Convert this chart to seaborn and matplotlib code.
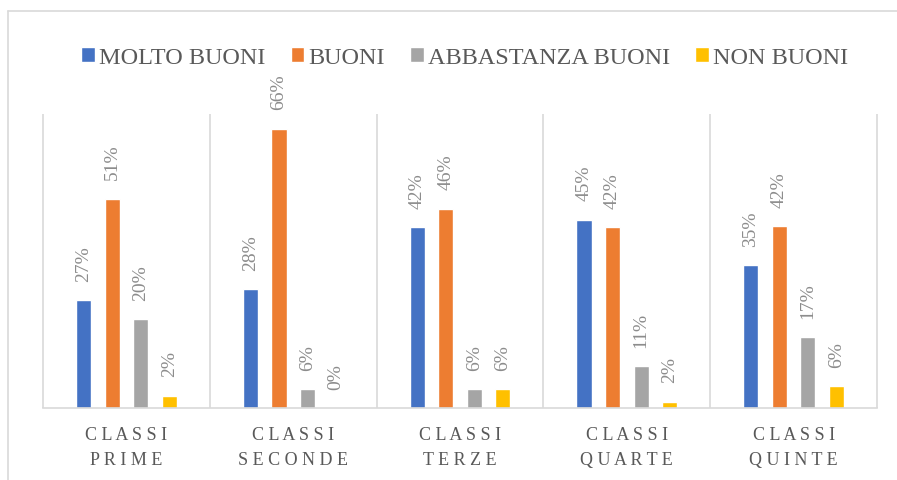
import pandas as pd
import matplotlib.pyplot as plt
from matplotlib.lines import Line2D
import seaborn as sns

# --- Data ---
classi = ["CLASSI\nPRIME", "CLASSI\nSECONDE", "CLASSI\nTERZE", "CLASSI\nQUARTE", "CLASSI\nQUINTE"]
giudizi = ["MOLTO BUONI", "BUONI", "ABBASTANZA BUONI", "NON BUONI"]

# bar heights (%) as drawn
molto_buoni = [25.7, 28.3, 43.0, 44.8, 34.0]
buoni = [49.8, 66.5, 47.5, 43.1, 43.3]
abbastanza_buoni = [21.1, 4.5, 4.5, 9.9, 16.9]
non_buoni = [2.9, 0.0, 4.5, 1.5, 5.2]

# data labels as printed on the chart
etichette = {
    "MOLTO BUONI": ["27%", "28%", "42%", "45%", "35%"],
    "BUONI": ["51%", "66%", "46%", "42%", "42%"],
    "ABBASTANZA BUONI": ["20%", "6%", "6%", "11%", "17%"],
    "NON BUONI": ["2%", "0%", "6%", "2%", "6%"],
}

colori = ["#4472C4", "#ED7D31", "#A5A5A5", "#FFC000"]

df = pd.DataFrame({"Classe": classi, "MOLTO BUONI": molto_buoni, "BUONI": buoni,
                   "ABBASTANZA BUONI": abbastanza_buoni, "NON BUONI": non_buoni})
df = df.melt(id_vars="Classe", var_name="Giudizio", value_name="Percentuale")

sns.set_theme(style="white")
plt.rcParams['font.family'] = ['Liberation Serif', 'DejaVu Serif']

fig = plt.figure(figsize=(8.97, 4.81), dpi=100)
ax = fig.add_axes([0.048, 0.1497, 0.9297, 0.6112])

sns.barplot(data=df, x="Classe", y="Percentuale", hue="Giudizio", hue_order=giudizi,
            palette=colori, width=0.684, gap=0.47, saturation=1, ax=ax, legend=True)

for cont, g in zip(ax.containers, giudizi):
    ax.bar_label(cont, labels=etichette[g], padding=14, rotation=90,
                 color="#8c8c8c", fontsize=14)

ax.set_ylim(0, 70)
ax.set_xlim(-0.5, 4.5)
ax.vlines([i - 0.5 for i in range(len(classi) + 1)], 0, 70, color="#d9d9d9", lw=1.2, clip_on=False)
for s in ["top", "left", "right"]:
    ax.spines[s].set_visible(False)
ax.spines["bottom"].set_color("#d9d9d9")
ax.spines["bottom"].set_linewidth(1.2)
ax.set_yticks([])
ax.set_xlabel("")
ax.set_ylabel("")
ax.set_xticks(range(len(classi)))
ax.set_xticklabels([" ".join(c).replace(" \n ", "\n") for c in classi],
                   fontsize=13, color="#595959", linespacing=1.6)
ax.tick_params(axis="x", length=0, pad=13)

# --- Legend on top ---
handles, labels = ax.get_legend_handles_labels()
ax.legend_.remove()
fig.legend(handles, labels, loc="center", bbox_to_anchor=(0.518, 0.878), ncol=4,
           frameon=False, fontsize=17.5, handlelength=0.55, handleheight=0.55,
           handletextpad=0.17, columnspacing=1.05, labelcolor="#595959")

# chart area border (top and left visible)
fig.add_artist(Line2D([8 / 897, 1], [1 - 12 / 481, 1 - 12 / 481], color="#d9d9d9", lw=1.2))
fig.add_artist(Line2D([8 / 897, 8 / 897], [0, 1 - 12 / 481], color="#d9d9d9", lw=1.2))

fig.savefig("out.png", dpi=100)
